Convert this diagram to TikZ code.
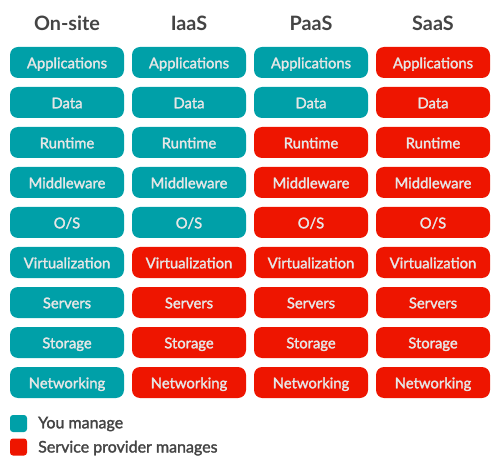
\documentclass[tikz,border=0pt]{standalone}
\usepackage{fontspec}
\setmainfont{Lato}
\newfontfamily\medfont{Lato}[FakeBold=1.8]
\definecolor{youteal}{HTML}{00A0A8}
\definecolor{provred}{HTML}{EE1500}
\definecolor{headgray}{HTML}{444444}
\definecolor{boxtext}{HTML}{E6E6E6}
\tikzset{
	layerbox/.style={draw=none, rounded corners=8pt, minimum width=114pt, minimum height=31pt, inner sep=0pt, text height=13pt, text depth=1.4pt, text=boxtext, font=\fontsize{14.8}{17}\medfont},
	colhead/.style={text=headgray, anchor=base, font=\fontsize{19.8}{24}\selectfont\bfseries},
	keybox/.style={draw=none, rounded corners=3pt, minimum size=17pt, inner sep=0pt},
	keytext/.style={text=headgray, anchor=base west, inner sep=0pt, font=\fontsize{16}{18}\medfont}
}
\begin{document}
\begin{tikzpicture}[x=1pt, y=-1pt]
	\useasboundingbox (0,0) rectangle (503,462);
	\foreach \name/\col/\own in {onsite/0/9, iaas/1/5, paas/2/2, saas/3/0}{
		\foreach \layer [count=\r] in {Applications, Data, Runtime, Middleware, O/S, Virtualization, Servers, Storage, Networking}{
			\ifnum\r>\own
				\node[layerbox, fill=provred] (\name\r) at (67+122*\col, 22.5+40*\r) {\layer};
			\else
				\node[layerbox, fill=youteal] (\name\r) at (67+122*\col, 22.5+40*\r) {\layer};
			\fi
		}
	}
	\node[colhead] (hOnsite) at (67,30.7) {On-site};
	\node[colhead] (hIaas) at (189,30.7) {IaaS};
	\node[colhead] (hPaas) at (311,30.7) {PaaS};
	\node[colhead] (hSaas) at (433,30.7) {SaaS};
	\node[keybox, fill=youteal] (kYou) at (18.5,423.5) {};
	\node[keybox, fill=provred] (kProv) at (18.5,447) {};
	\node[keytext] (tYou) at (38,428.3) {You manage};
	\node[keytext] (tProv) at (38,452.5) {Service provider manages};
\end{tikzpicture}
\end{document}
